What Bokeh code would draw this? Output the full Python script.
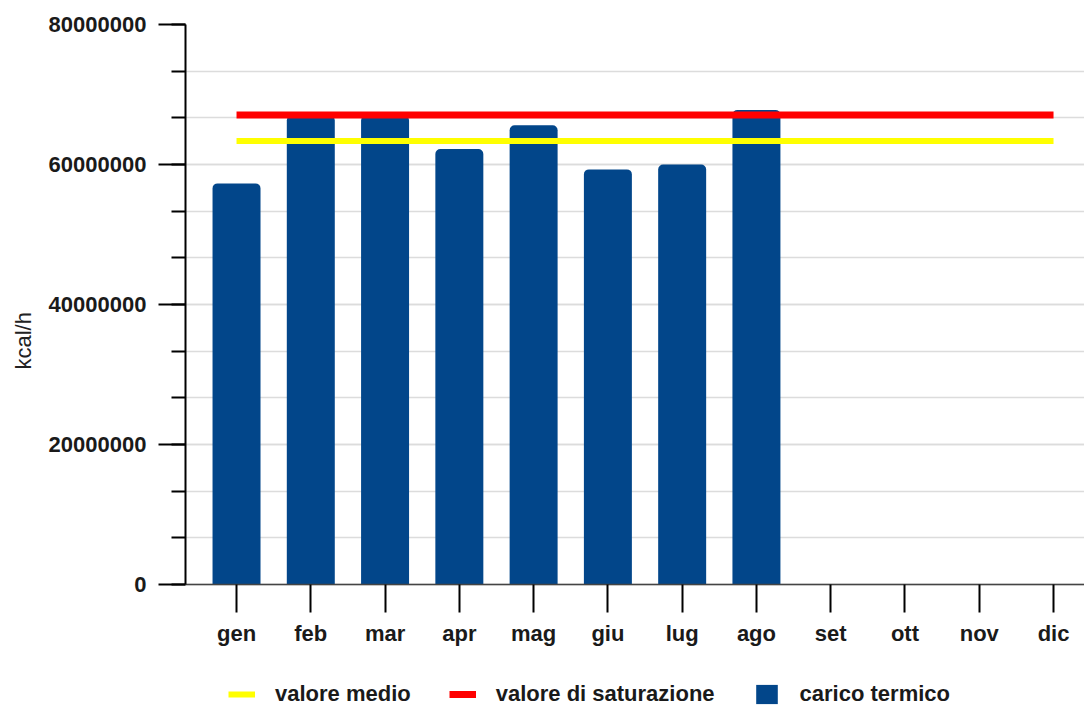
from bokeh.plotting import figure
from bokeh.models import (Range1d, FixedTicker, BasicTickFormatter, Legend,
                          LegendItem, Title, ColumnDataSource)
from bokeh.embed import file_html
from bokeh.resources import INLINE

# ---- data ----
months = ["gen", "feb", "mar", "apr", "mag", "giu", "lug", "ago", "set", "ott", "nov", "dic"]
carico_termico = [57.3e6, 67.0e6, 67.0e6, 62.2e6, 65.6e6, 59.3e6, 60.0e6, 67.8e6]
valore_medio = 63.35e6
valore_saturazione = 67.07e6
y_major = [0, 20e6, 40e6, 60e6, 80e6]
y_minor_step = 20e6 / 3

FONT = "Liberation Sans"
BAR = "#02468a"
TXT = "#1a1a1a"

x_months = list(range(len(months)))
bars = ColumnDataSource(dict(x=x_months[:len(carico_termico)], top=carico_termico))
line_x = [x_months[0], x_months[-1]]

# the frame extends below zero to leave room for the axis labels and the legend
y_top = y_major[-1]
y_bottom = -y_top * 121 / 560

p = figure(width=1084, height=705, output_backend="svg", toolbar_location=None,
           x_range=Range1d(-0.687, 11.417), y_range=Range1d(y_bottom, y_top),
           min_border_left=185, min_border_right=0, min_border_top=24,
           min_border_bottom=0)
p.outline_line_color = None
p.background_fill_color = "white"
p.border_fill_color = "white"

r_bar = p.vbar(x="x", top="top", bottom=0, width=0.646, source=bars, fill_color=BAR,
               line_color=None, border_radius=(5, 5, 0, 0))
r_med = p.line(line_x, [valore_medio] * 2, line_color="#ffff00", line_width=6)
r_sat = p.line(line_x, [valore_saturazione] * 2, line_color="#ff0000", line_width=7)

# grid
p.xgrid.visible = False
minor = [k * y_minor_step for k in range(13)]
yt = FixedTicker(ticks=y_major, minor_ticks=minor)
p.ygrid.ticker = yt
p.ygrid.grid_line_color = "#dcdcdc"
p.ygrid.grid_line_width = 1.5
p.ygrid.minor_grid_line_color = "#dcdcdc"
p.ygrid.minor_grid_line_width = 1.5

# y axis
ya = p.yaxis[0]
ya.ticker = yt
ya.bounds = (0, y_top)
ya.formatter = BasicTickFormatter(use_scientific=False)
ya.major_tick_out = 27
ya.major_tick_in = 0
ya.minor_tick_out = 14
ya.minor_tick_in = 0
ya.major_tick_line_width = 2
ya.minor_tick_line_width = 2
ya.axis_line_width = 2
ya.axis_line_color = "black"
ya.major_tick_line_color = "black"
ya.minor_tick_line_color = "black"
ya.major_label_standoff = 12
ya.major_label_text_font = FONT
ya.major_label_text_font_style = "bold"
ya.major_label_text_font_size = "22px"
ya.major_label_text_color = TXT

# x axis, drawn at y = 0 inside the frame
xa = p.xaxis[0]
xa.fixed_location = 0
xa.ticker = FixedTicker(ticks=x_months)
xa.major_label_overrides = {i: m for i, m in zip(x_months, months)}
xa.major_tick_out = 28
xa.major_tick_in = 0
xa.minor_tick_line_color = None
xa.major_tick_line_width = 2
xa.major_tick_line_color = "black"
xa.axis_line_color = "#444444"
xa.axis_line_width = 1.5
xa.major_label_standoff = 8
xa.major_label_text_font = FONT
xa.major_label_text_font_style = "bold"
xa.major_label_text_font_size = "22px"
xa.major_label_text_color = TXT

# y axis title (to the left of the tick labels)
p.add_layout(Title(text="kcal/h", align="left", offset=336, vertical_align="top",
                   standoff=16, text_font=FONT, text_font_style="normal",
                   text_font_size="22px", text_color="#222222"), "left")

legend = Legend(items=[LegendItem(label="valore medio", renderers=[r_med]),
                       LegendItem(label="valore di saturazione", renderers=[r_sat]),
                       LegendItem(label="carico termico", renderers=[r_bar])],
                location=(43, -2), orientation="horizontal",
                border_line_color=None, background_fill_alpha=0,
                padding=0, margin=0, spacing=38, label_standoff=20,
                glyph_width=27, glyph_height=24, label_height=24,
                label_text_font=FONT, label_text_font_style="bold",
                label_text_font_size="22px", label_text_color=TXT)
p.add_layout(legend, "center")

open("out.html", "w").write(file_html(p, INLINE))
